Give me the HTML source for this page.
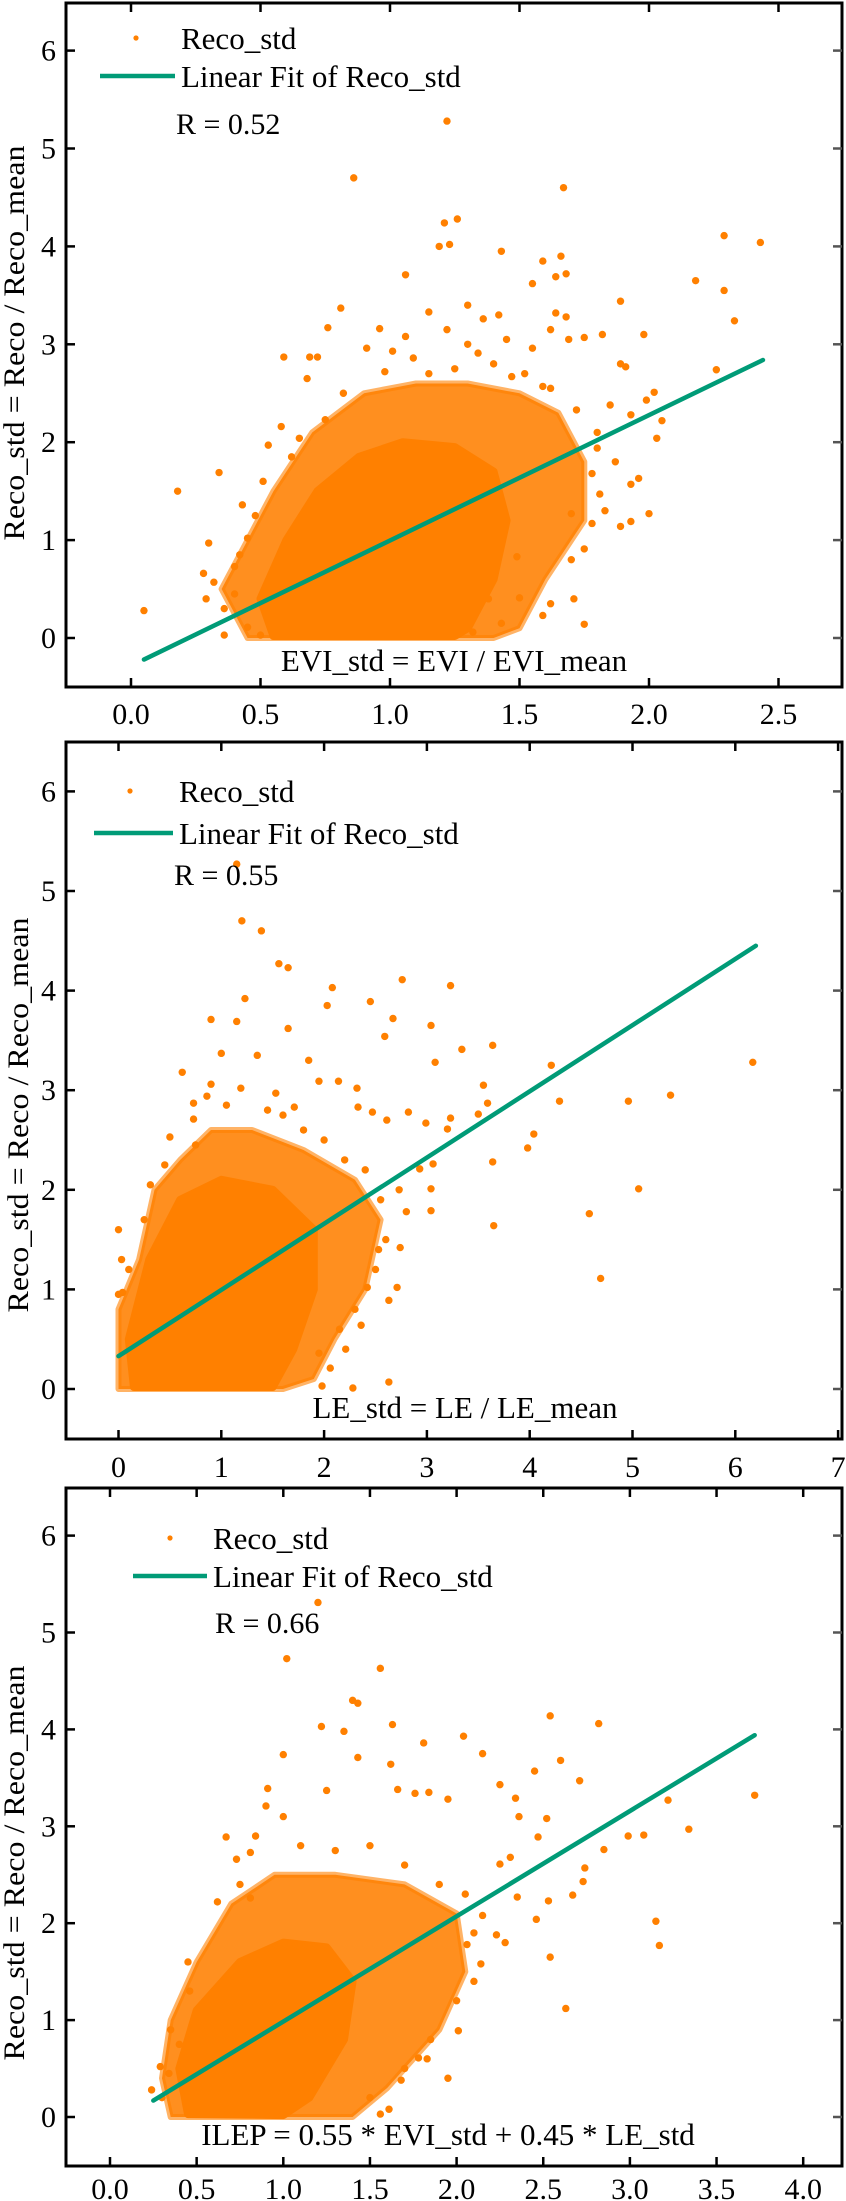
<!DOCTYPE html>
<html><head><meta charset="utf-8"><style>
html,body{margin:0;padding:0;background:#fff}
svg{display:block}
text{font-family:"Liberation Serif",serif;fill:#000}
</style></head><body>
<svg id="chart" width="846" height="2201" viewBox="0 0 846 2201" xmlns="http://www.w3.org/2000/svg"></svg>
<script>
// ---------- Panel 1: EVI_std ----------
const p1Outliers = [[0.05,0.28],[0.18,1.5],[0.34,1.69],[0.30,0.97],[0.43,1.36],[0.36,0.03],[0.59,2.87],[0.69,2.87],[0.72,2.87],[0.76,3.17],[0.81,3.37],[0.68,2.65],[0.86,4.70],[0.96,3.16],[1.06,3.08],[1.06,3.71],[1.15,3.33],[1.19,4.0],[1.21,4.24],[1.23,4.02],[1.26,4.28],[1.22,5.28],[1.30,3.40],[1.36,3.26],[1.42,3.3],[1.43,3.95],[1.55,3.62],[1.59,3.85],[1.64,3.69],[1.66,3.9],[1.67,4.6],[1.68,3.72],[1.64,3.32],[1.68,3.28],[1.75,3.07],[1.82,3.1],[1.89,3.44],[1.98,3.1],[1.89,2.8],[1.91,2.77],[2.02,2.51],[1.99,2.43],[2.05,2.22],[2.03,2.04],[1.96,1.63],[1.93,1.57],[2.0,1.27],[1.93,1.19],[1.89,1.14],[1.75,0.91],[1.71,0.40],[1.75,0.14],[1.59,0.23],[1.50,0.41],[2.18,3.65],[2.29,3.55],[2.29,4.11],[2.33,3.24],[2.43,4.04],[2.26,2.74],[1.78,1.68],[1.81,1.47],[1.70,1.27],[1.87,1.8],[1.80,1.94],[1.72,2.33],[1.59,2.57],[1.55,2.96],[1.47,2.67],[1.34,2.91],[1.22,3.15],[1.09,2.86],[1.01,2.93],[0.91,2.96],[0.82,2.5],[0.75,2.23],[0.65,2.04],[0.53,1.97],[0.58,2.16],[0.51,1.6],[0.29,0.4],[0.32,0.57],[0.28,0.66],[0.40,0.73],[0.45,1.02],[0.36,0.30],[0.45,0.11],[0.50,0.03],[1.62,3.15],[1.69,3.05],[1.85,2.38],[1.93,2.28],[1.78,1.17],[1.49,0.83],[1.38,0.40],[1.43,0.15],[1.32,0.06],[1.22,0.06],[1.40,2.8],[1.25,2.75],[1.15,2.7],[0.98,2.72],[1.52,2.7],[1.62,2.55],[1.80,2.1],[1.83,1.3],[1.70,0.8],[1.62,0.35],[0.40,0.45],[0.42,0.85],[0.48,1.25],[0.62,1.85],[1.30,3.0],[1.45,3.05]];
const p1Halo = [[0.45,0.0],[0.35,0.5],[0.45,1.0],[0.55,1.5],[0.7,2.1],[0.9,2.5],[1.1,2.6],[1.3,2.6],[1.5,2.5],[1.65,2.3],[1.75,1.8],[1.75,1.2],[1.6,0.6],[1.5,0.1],[1.4,0.0]];
const p1Core = [[0.55,0.02],[0.5,0.4],[0.6,1.0],[0.72,1.5],[0.88,1.85],[1.05,2.0],[1.25,1.95],[1.4,1.7],[1.45,1.2],[1.4,0.6],[1.3,0.1],[1.25,0.02]];
const p1Fit = [[0.05,-0.22],[2.44,2.84]];
const p1XTicks = [0.0,0.5,1.0,1.5,2.0,2.5];
const p1XLabels = ["0.0","0.5","1.0","1.5","2.0","2.5"];

// ---------- Panel 2: LE_std ----------
const p2Outliers = [[0,1.6],[0.03,1.3],[0.31,2.05],[0.62,3.18],[0.73,2.87],[0.90,3.71],[1.0,3.37],[1.15,3.69],[1.15,5.27],[1.2,4.70],[1.23,3.92],[1.39,4.6],[1.35,3.35],[1.56,4.27],[1.65,4.23],[1.65,3.62],[2.08,4.03],[2.03,3.85],[2.45,3.89],[2.59,3.54],[2.67,3.72],[2.76,4.11],[3.04,3.65],[3.23,4.05],[3.08,3.28],[3.34,3.41],[3.64,3.45],[3.55,3.05],[3.59,2.87],[3.50,2.76],[3.64,2.28],[3.65,1.64],[3.98,2.42],[4.04,2.56],[4.21,3.25],[4.29,2.89],[4.96,2.89],[5.37,2.95],[5.06,2.01],[4.58,1.76],[4.69,1.11],[6.17,3.28],[3.04,2.01],[3.04,1.79],[2.80,1.78],[2.74,1.42],[2.71,1.02],[2.63,0.89],[2.63,0.07],[2.28,0.01],[1.98,0.03],[2.99,2.67],[3.06,2.26],[3.23,2.72],[3.2,2.61],[2.93,2.21],[2.73,2.0],[2.82,2.78],[2.61,2.7],[2.47,2.78],[2.33,2.83],[2.32,3.02],[2.14,3.09],[1.95,3.09],[1.85,3.3],[1.71,2.83],[1.53,2.97],[1.19,3.02],[0.90,3.06],[0.86,2.94],[0.73,2.71],[0.50,2.53],[2.53,1.40],[2.42,1.02],[2.36,0.64],[2.21,0.4],[2.06,0.21],[1.95,0.36],[0.04,0.97],[0,0.95],[1.45,2.8],[1.60,2.75],[1.80,2.6],[2.00,2.5],[2.20,2.3],[2.40,2.2],[2.55,1.9],[2.60,1.5],[2.50,1.2],[2.30,0.8],[2.15,0.6],[1.05,2.85],[0.75,2.45],[0.45,2.25],[0.25,1.7],[0.10,1.2]];
const p2Halo = [[0.0,0.0],[0.0,0.8],[0.2,1.3],[0.35,2.0],[0.6,2.3],[0.9,2.6],[1.3,2.6],[1.8,2.4],[2.3,2.1],[2.55,1.7],[2.4,1.0],[2.1,0.5],[1.9,0.1],[1.6,0.0]];
const p2Core = [[0.15,0.02],[0.1,0.5],[0.3,1.3],[0.6,1.9],[1.0,2.1],[1.5,2.0],[1.9,1.6],[1.9,1.0],[1.7,0.4],[1.5,0.02]];
const p2Fit = [[0.0,0.33],[6.2,4.45]];
const p2XTicks = [0,1,2,3,4,5,6,7];
const p2XLabels = ["0","1","2","3","4","5","6","7"];

// ---------- Panel 3: ILEP ----------
const p3Outliers = [[0.24,0.28],[0.29,0.52],[0.67,2.89],[0.73,2.66],[0.81,2.73],[0.84,2.9],[0.91,3.39],[0.9,3.21],[1.0,3.1],[1.0,3.74],[1.02,4.73],[1.2,5.31],[1.22,4.03],[1.25,3.37],[1.35,3.98],[1.4,4.3],[1.43,4.27],[1.43,3.71],[1.56,4.63],[1.63,4.05],[1.62,3.64],[1.66,3.38],[1.76,3.34],[1.81,3.86],[1.84,3.35],[1.95,3.28],[2.04,3.93],[2.15,3.75],[2.25,3.43],[2.34,3.29],[2.36,3.1],[2.45,3.57],[2.47,2.89],[2.52,3.08],[2.54,4.14],[2.6,3.68],[2.71,3.47],[2.82,4.06],[2.85,2.76],[2.74,2.57],[2.73,2.43],[2.67,2.29],[2.53,2.23],[2.46,2.04],[2.54,1.65],[2.63,1.12],[2.35,2.27],[2.31,2.68],[2.25,2.61],[2.28,1.8],[2.23,1.88],[2.14,1.58],[2.01,0.89],[1.95,0.4],[2.15,2.08],[2.06,1.78],[2.99,2.9],[3.08,2.91],[3.22,3.27],[3.34,2.97],[3.15,2.02],[3.17,1.77],[3.72,3.32],[1.68,0.38],[1.61,0.08],[1.56,0.03],[1.78,0.61],[1.83,0.6],[0.4,0.75],[0.34,0.45],[0.45,1.6],[0.46,1.3],[0.62,2.22],[0.81,2.26],[0.75,2.4],[1.10,2.8],[1.30,2.75],[1.50,2.8],[1.70,2.6],[1.90,2.4],[2.05,2.3],[2.10,1.9],[2.10,1.4],[2.00,1.2],[1.85,0.8],[1.70,0.5],[1.50,0.2],[0.30,0.2],[0.35,0.9]];
const p3Halo = [[0.35,0.0],[0.3,0.4],[0.35,1.0],[0.5,1.6],[0.7,2.2],[0.95,2.5],[1.3,2.5],[1.7,2.4],[2.0,2.1],[2.05,1.5],[1.9,0.9],[1.6,0.3],[1.4,0.0]];
const p3Core = [[0.45,0.03],[0.4,0.5],[0.5,1.1],[0.75,1.6],[1.0,1.8],[1.25,1.75],[1.4,1.4],[1.35,0.8],[1.15,0.2],[1.0,0.02]];
const p3Fit = [[0.25,0.17],[3.72,3.94]];
const p3XTicks = [0.0,0.5,1.0,1.5,2.0,2.5,3.0,3.5,4.0];
const p3XLabels = ["0.0","0.5","1.0","1.5","2.0","2.5","3.0","3.5","4.0"];

const yTicks = [0,1,2,3,4,5,6];
const yLabels = ["0","1","2","3","4","5","6"];

const NS = "http://www.w3.org/2000/svg";
const svg = document.getElementById('chart');
const ORANGE = "#FF8000", GREEN = "#009B77";

function mk(tag, attrs, parent) {
  const e = document.createElementNS(NS, tag);
  for (const k in attrs) e.setAttribute(k, attrs[k]);
  (parent || svg).appendChild(e);
  return e;
}

function drawPanel(id, geo, outliers, halo, core, fit, xTicks, xLabels, legendR, xTitle) {
  const g = mk('g', {});
  
  
  const sx = v => geo.x0 + geo.ux * v;
  const sy = v => geo.y0 - geo.uy * v;
  const pts = arr => arr.map(p => sx(p[0]).toFixed(1) + ',' + sy(p[1]).toFixed(1)).join(' ');

  const hp = mk('polygon', {points: pts(halo), fill: ORANGE, 'fill-opacity': 0.88, stroke: ORANGE, 'stroke-width': 6, 'stroke-opacity': 0.6, 'stroke-linejoin': 'round'}, g);
  
  
  const cp = mk('polygon', {points: pts(core), fill: ORANGE, stroke: ORANGE, 'stroke-width': 8, 'stroke-linejoin': 'round'}, g);
  
  
  outliers.forEach(p => {
    const c = mk('circle', {cx: sx(p[0]), cy: sy(p[1]), r: 3.7, fill: ORANGE}, g);
    
    
  });
  const fl = mk('line', {x1: sx(fit[0][0]), y1: sy(fit[0][1]), x2: sx(fit[1][0]), y2: sy(fit[1][1]), stroke: GREEN, 'stroke-width': 4.5, 'stroke-linecap': 'round'}, g);
  
  

  const fr = mk('rect', {x: geo.left, y: geo.top, width: geo.right - geo.left, height: geo.bottom - geo.top, fill: 'none', stroke: '#000', 'stroke-width': 3}, g);
  
  

  xTicks.forEach((t, i) => {
    const x = sx(t);
    if (x > geo.left + 2 && x < geo.right - 2) {
      mk('line', {x1: x, y1: geo.bottom, x2: x, y2: geo.bottom - 9, stroke: '#000', 'stroke-width': 2.5}, g);
      mk('line', {x1: x, y1: geo.top, x2: x, y2: geo.top + 9, stroke: '#000', 'stroke-width': 2.5}, g);
    }
    const tl = mk('text', {x: x, y: geo.labelY, 'font-size': 30, 'text-anchor': 'middle'}, g);
    tl.textContent = xLabels[i];
    
    
  });
  yTicks.forEach((t, i) => {
    const y = sy(t);
    mk('line', {x1: geo.left, y1: y, x2: geo.left + 9, y2: y, stroke: '#000', 'stroke-width': 2.5}, g);
    mk('line', {x1: geo.right, y1: y, x2: geo.right - 9, y2: y, stroke: '#555', 'stroke-width': 2.5}, g);
    const tl = mk('text', {x: geo.left - 10, y: y + 10, 'font-size': 30, 'text-anchor': 'end'}, g);
    tl.textContent = yLabels[i];
    
    
  });

  const yt = mk('text', {x: 0, y: 0, 'font-size': 30, 'text-anchor': 'middle', textLength: 395, lengthAdjust: 'spacingAndGlyphs', transform: 'translate(' + (geo.ytX) + ',' + geo.ytY + ') rotate(-90)'}, g);
  yt.textContent = 'Reco_std = Reco / Reco_mean';
  
  

  const xt = mk('text', {x: geo.xtX, y: geo.xtY, 'font-size': 31, 'text-anchor': 'middle'}, g);
  xt.textContent = xTitle;
  
  

  const L = geo.leg;
  const ld = mk('circle', {cx: L.dotX, cy: L.dotY, r: 2.6, fill: ORANGE}, g);
  
  
  const lt1 = mk('text', {x: L.textX, y: L.dotY + 11, 'font-size': 31}, g);
  lt1.textContent = 'Reco_std';
  
  
  const ll = mk('line', {x1: L.lineX1, y1: L.lineY, x2: L.textX - 6, y2: L.lineY, stroke: GREEN, 'stroke-width': 4.5}, g);
  
  
  const lt2 = mk('text', {x: L.textX, y: L.lineY + 11, 'font-size': 31}, g);
  lt2.textContent = 'Linear Fit of Reco_std';
  
  
  const rt = mk('text', {x: L.rX, y: L.rY, 'font-size': 30}, g);
  rt.textContent = legendR;
  
  
}

drawPanel('evi', {left: 66, right: 842, top: 3, bottom: 687, x0: 131, ux: 259, y0: 638, uy: 97.9, labelY: 724,
  ytX: 24, ytY: 343, xtX: 454, xtY: 671,
  leg: {dotX: 136, dotY: 38, textX: 181, lineX1: 100, lineY: 76, rX: 176, rY: 134}},
  p1Outliers, p1Halo, p1Core, p1Fit, p1XTicks, p1XLabels, 'R = 0.52', 'EVI_std = EVI / EVI_mean');

drawPanel('le', {left: 66, right: 842, top: 742, bottom: 1439, x0: 118.5, ux: 102.8, y0: 1389, uy: 99.6, labelY: 1477,
  ytX: 28, ytY: 1115, xtX: 465, xtY: 1418,
  leg: {dotX: 130, dotY: 791, textX: 179, lineX1: 94, lineY: 833, rX: 174, rY: 885}},
  p2Outliers, p2Halo, p2Core, p2Fit, p2XTicks, p2XLabels, 'R = 0.55', 'LE_std = LE / LE_mean');

drawPanel('ilep', {left: 66, right: 842, top: 1488, bottom: 2166, x0: 110, ux: 173.3, y0: 2117, uy: 96.9, labelY: 2199,
  ytX: 24, ytY: 1863, xtX: 448, xtY: 2145,
  leg: {dotX: 170, dotY: 1538, textX: 213, lineX1: 133, lineY: 1576, rX: 215, rY: 1633}},
  p3Outliers, p3Halo, p3Core, p3Fit, p3XTicks, p3XLabels, 'R =  0.66', 'ILEP = 0.55 * EVI_std + 0.45 * LE_std');
</script>
</body></html>
